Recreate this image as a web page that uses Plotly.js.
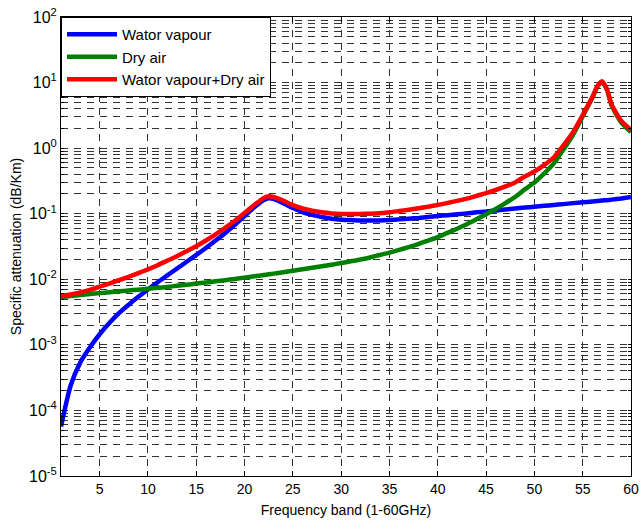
<!DOCTYPE html>
<html>
<head>
<meta charset="utf-8">
<script src="https://cdn.plot.ly/plotly-3.0.1.min.js"></script>
<style>html,body{margin:0;padding:0;background:#fff;}#chart{width:640px;height:523px;}</style>
</head>
<body>
<div id="chart"></div>
<script>
const freq = [1,2,3,4,5,6,7,8,9,10,11,12,13,14,15,16,17,18,19,20,21,22,22.5,23,24,25,26,27,28,29,30,31,32,33,34,35,36,37,38,39,40,41,42,43,44,45,46,47,48,49,50,51,52,53,54,55,56,56.5,57,57.5,58,59,60];
const waterVapour = [5.7e-5,2.4e-4,5.4e-4,9.2e-4,1.45e-3,2.15e-3,3.05e-3,4.1e-3,5.4e-3,7.0e-3,9.0e-3,1.15e-2,1.45e-2,1.85e-2,2.35e-2,3.0e-2,3.9e-2,5.1e-2,6.8e-2,0.092,0.125,0.162,0.172,0.168,0.145,0.122,0.106,0.096,0.089,0.084,0.081,0.080,0.079,0.079,0.079,0.080,0.082,0.084,0.086,0.089,0.092,0.095,0.098,0.101,0.105,0.108,0.112,0.116,0.12,0.124,0.128,0.132,0.136,0.14,0.145,0.149,0.154,0.156,0.159,0.161,0.164,0.171,0.18];
const dryAir = [5.3e-3,5.55e-3,5.75e-3,5.95e-3,6.15e-3,6.35e-3,6.55e-3,6.75e-3,6.95e-3,7.15e-3,7.4e-3,7.65e-3,7.95e-3,8.25e-3,8.6e-3,8.95e-3,9.3e-3,9.7e-3,1.01e-2,1.06e-2,1.11e-2,1.16e-2,1.19e-2,1.22e-2,1.28e-2,1.35e-2,1.42e-2,1.5e-2,1.58e-2,1.67e-2,1.77e-2,1.88e-2,2.0e-2,2.15e-2,2.35e-2,2.55e-2,2.8e-2,3.1e-2,3.45e-2,3.9e-2,4.4e-2,5.1e-2,5.9e-2,6.9e-2,8.2e-2,0.098,0.118,0.145,0.18,0.235,0.30,0.41,0.58,0.95,1.6,3.05,5.85,8.5,10.2,7.8,4.45,2.45,1.75];
const combined = [5.5e-3,5.85e-3,6.3e-3,6.9e-3,7.7e-3,8.6e-3,9.7e-3,1.09e-2,1.24e-2,1.42e-2,1.64e-2,1.92e-2,2.25e-2,2.68e-2,3.2e-2,3.9e-2,4.85e-2,6.1e-2,7.8e-2,0.103,0.136,0.174,0.184,0.18,0.158,0.135,0.12,0.111,0.105,0.101,0.099,0.099,0.099,0.100,0.102,0.105,0.110,0.115,0.121,0.128,0.136,0.146,0.157,0.170,0.187,0.206,0.23,0.261,0.30,0.37,0.44,0.55,0.72,1.1,1.75,3.2,6.0,8.7,10.5,8.0,4.6,2.6,1.9];
const seriesNames = ['Wator vapour','Dry air','Wator vapour+Dry air'];
const seriesColors = ['rgb(0,0,255)','rgb(0,128,0)','rgb(255,0,0)'];
const xTicks = [5,10,15,20,25,30,35,40,45,50,55,60];
const yExponents = [-5,-4,-3,-2,-1,0,1,2];

const yTickVals = [], yTickText = [];
yExponents.forEach(function(p){
  const m = Math.pow(10,p);
  yTickVals.push(m); yTickText.push('10<sup>' + p + '</sup>');
  if (p < 2) for (let d = 2; d <= 9; d++) { yTickVals.push(d*m); yTickText.push(''); }
});

const series = [waterVapour, dryAir, combined];
const traces = series.map(function(v,i){
  return {x: freq, y: v, type:'scatter', mode:'lines', name: seriesNames[i],
    legendgroup: 'g'+i,
    line:{color: seriesColors[i], width:4.5, shape:'spline', smoothing:0.6}};
});

const fam = '"Liberation Sans", Arial, sans-serif';
const gridDash = '7px,6px';
const layout = {
  width:640, height:523,
  margin:{l:61, r:9, t:17, b:47},
  paper_bgcolor:'#fff', plot_bgcolor:'#fff',
  font: {family:fam, size:13, color:'#000'},
  showlegend:true,
  legend:{x:0, y:1, xanchor:'left', yanchor:'top', bgcolor:'#fff', bordercolor:'#000', borderwidth:1,
    font:{family:fam, size:15, color:'#000'}, tracegroupgap:0, itemwidth:50},
  xaxis:{range:[1,60], tickvals:xTicks, ticks:'inside', ticklen:5, tickcolor:'#000',
    showline:true, linecolor:'#000', linewidth:1, mirror:'ticks',
    showgrid:true, gridcolor:'#333', gridwidth:1, griddash:gridDash, zeroline:false,
    tickfont:{family:fam, size:14, color:'#000'},
    title:{text:'Frequency band (1-60GHz)', font:{family:fam, size:14, color:'#000'}, standoff:9}},
  yaxis:{type:'log', range:[-5,2], tickvals:yTickVals, ticktext:yTickText, ticks:'inside', ticklen:3, tickcolor:'#000',
    showline:true, linecolor:'#000', linewidth:1, mirror:'ticks',
    showgrid:true, gridcolor:'#333', gridwidth:1, griddash:gridDash, zeroline:false,
    tickfont:{family:fam, size:16, color:'#000'},
    title:{text:'Specific attenuation (dB/Km)', font:{family:fam, size:14, color:'#000'}, standoff:4}}
};
Plotly.newPlot('chart', traces, layout, {displayModeBar:false, staticPlot:true});
</script>
</body>
</html>
